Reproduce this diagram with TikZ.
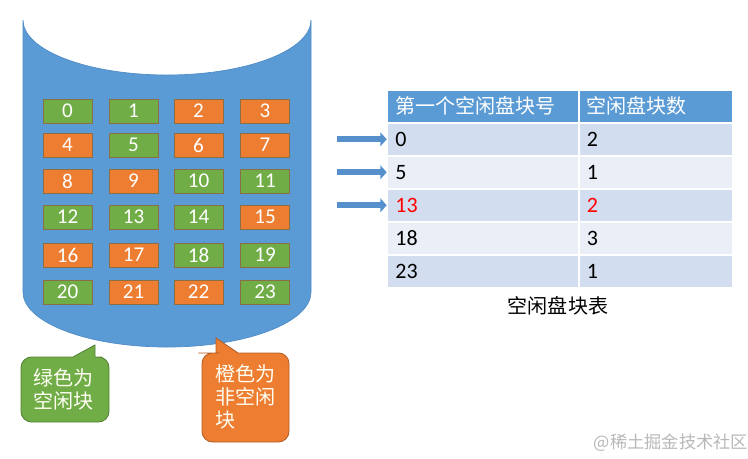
\documentclass[tikz,border=0pt]{standalone}
\usepackage{fontspec}
\setmainfont{Carlito}
\newfontfamily\cjk{Noto Sans CJK SC}
\usetikzlibrary{arrows.meta,positioning}

\definecolor{diskblue}{HTML}{5B9BD5}
\definecolor{diskedge}{HTML}{4F8CC6}
\definecolor{freegreen}{HTML}{70AD47}
\definecolor{usedorange}{HTML}{ED7D31}
\definecolor{blkedge}{HTML}{8A6E45}
\definecolor{rowdark}{HTML}{D2DEEF}
\definecolor{rowlight}{HTML}{EAEFF7}
\definecolor{arrowblue}{HTML}{5590CC}

\begin{document}
\begin{tikzpicture}[
  x=0.02cm, y=-0.02cm,
  font=\fontsize{12.5}{14}\selectfont,
  disk/.style={fill=diskblue, draw=diskedge, line width=0.4pt},
  blk/.style={draw=blkedge, line width=0.5pt, minimum width=0.98cm, minimum height=0.48cm, inner sep=0pt, text=white, font=\fontsize{12}{14}\selectfont},
  freeblk/.style={blk, fill=freegreen},
  usedblk/.style={blk, fill=usedorange},
  cell/.style={rectangle, anchor=north west, draw=white, line width=0.9pt, minimum height=0.66cm, inner xsep=0.16cm, inner ysep=0pt, align=left},
  firstcol/.style={cell, text width=3.5cm},
  countcol/.style={cell, text width=2.77cm},
  blockarrow/.style={draw=arrowblue, line width=3.4pt, -{Triangle[length=3.6pt, width=7.8pt]}},
  freenote/.style={fill=freegreen, draw=freegreen!75!black, line width=0.5pt},
  usednote/.style={fill=usedorange, draw=usedorange!75!black, line width=0.5pt},
  notetext/.style={anchor=north west, inner sep=0pt, align=left, text=white!95!yellow, font=\cjk\fontsize{11.4}{13.2}\selectfont}
]
  \useasboundingbox (0,0) rectangle (748,458);

  % the disk
  \filldraw[disk] (23,20) -- (23,292) .. controls (23,322.4) and (87.5,347) .. (167,347)
    .. controls (246.5,347) and (311,322.4) .. (311,292) -- (311,20)
    .. controls (311,50.4) and (246.5,75) .. (167,75)
    .. controls (87.5,75) and (23,50.4) .. (23,20) -- cycle;

  % blocks on the disk
  \foreach \n/\x/\y/\kind in {
    0/67.5/111/freeblk, 1/133.5/111/freeblk, 2/198.5/111/usedblk, 3/265/111/usedblk,
    4/67.5/145/usedblk, 5/133.5/145/freeblk, 6/198.5/145/usedblk, 7/265/145/usedblk,
    8/67.5/181/usedblk, 9/133.5/181/usedblk, 10/198.5/181/freeblk, 11/265/181/freeblk,
    12/67.5/217/freeblk, 13/133.5/217/freeblk, 14/198.5/217/freeblk, 15/265/217/usedblk,
    16/67.5/255/usedblk, 17/133.5/255/usedblk, 18/198.5/255/freeblk, 19/265/255/freeblk,
    20/67.5/292/freeblk, 21/133.5/292/usedblk, 22/198.5/292/usedblk, 23/265/292/freeblk}
    \node[\kind] (b\n) at (\x,\y) {\n};

  % free block table
  \node[firstcol, fill=diskblue, text=white, font=\cjk\fontsize{11.4}{13.2}\selectfont] (head1) at (386.7,89) {第一个空闲盘块号};
  \node[countcol, fill=diskblue, text=white, font=\cjk\fontsize{11.4}{13.2}\selectfont] (head2) at (578,89) {空闲盘块数};
  \foreach \a/\b/\y/\f/\t in {0/2/122/rowdark/black, 5/1/155/rowlight/black,
      13/2/188/rowdark/red, 18/3/221/rowlight/black, 23/1/254/rowdark/black} {
    \node[firstcol, fill=\f, text=\t] (n\a) at (386.7,\y) {\a};
    \node[countcol, fill=\f, text=\t] (c\a) at (578,\y) {\b};
  }
  \node[font=\cjk\fontsize{11.4}{13.2}\selectfont] (caption) at (558,306) {空闲盘块表};

  % pointers to the rows
  \foreach \a in {0,5,13} {
    \coordinate[left=1cm of n\a.west] (p\a);
    \draw[blockarrow] (p\a) -- (n\a.west);
  }

  % callouts
  \filldraw[freenote] (21,390) [rounded corners=6pt] -- (21,357) -- (47,357) [sharp corners]
    -- (73,357) -- (95,345) -- (95,357) -- (102,357) [rounded corners=6pt]
    -- (109,357) -- (109,422) -- (21,422) -- cycle;
  \node[notetext] (freetext) at (33,368) {绿色为\\空闲块};

  \filldraw[usednote] (202,400) [rounded corners=6pt] -- (202,353) -- (209,353) [sharp corners]
    -- (216,353) -- (216,338) -- (238,353) -- (245,353) [rounded corners=6pt]
    -- (289,353) -- (289,442) -- (202,442) -- cycle;
  \node[notetext] (usedtext) at (215,364) {橙色为\\非空闲\\块};

  \node[text=black!28, font=\cjk\fontsize{9.8}{11}\selectfont] (mark) at (671,443) {@稀土掘金技术社区};
\end{tikzpicture}
\end{document}
